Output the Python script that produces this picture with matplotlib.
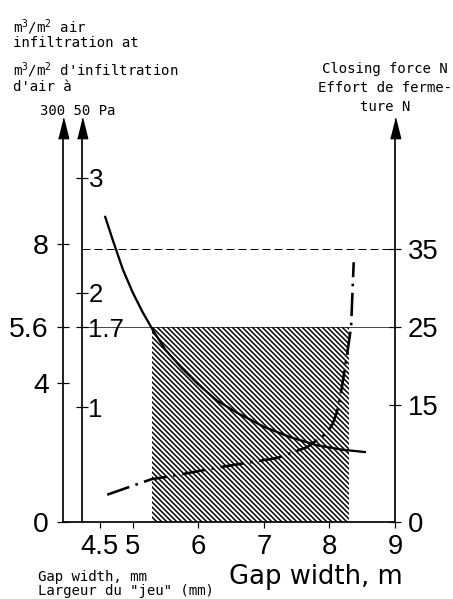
import numpy as np
import matplotlib
matplotlib.use("Agg")
import matplotlib.pyplot as plt
from matplotlib.patches import Rectangle

# gap width axis
gap_ticks = [4.5, 5, 6, 7, 8, 9]
gap_labels = ['4.5', '5', '6', '7', '8', '9']

# left axes: air infiltration at 300 Pa and 50 Pa, right axis: closing force
air300_ticks = [0, 4, 5.6, 8]
air300_labels = ['0', '4', '5.6', '8']
air50_ticks = [1, 1.7, 2, 3]
air50_labels = ['1', '1.7', '2', '3']
force_ticks = [0, 15, 25, 35]
force_labels = ['0', '15', '25', '35']

# air infiltration curve (50 Pa scale)
air_gap = [4.58, 4.70, 4.85, 5.00, 5.15, 5.31, 5.50, 5.75, 6.00, 6.28,
           6.60, 7.00, 7.40, 7.80, 8.20, 8.54]
air_50 = [2.66, 2.45, 2.20, 2.00, 1.83, 1.67, 1.50, 1.34, 1.20, 1.06,
          0.95, 0.83, 0.74, 0.67, 0.63, 0.61]

# closing force curve
force_gap = [4.61, 5.29, 5.60, 6.38, 7.20, 7.66, 7.96, 8.05, 8.11, 8.16,
             8.20, 8.24, 8.28, 8.33, 8.37]
force_N = [3.5, 5.5, 5.9, 7.1, 8.2, 9.6, 11.4, 12.6, 14.0, 15.8,
           17.8, 20.0, 22.1, 25.0, 33.3]

gap_range = [5.3, 8.3]
force_limit = 25
force_max = 35

DPI = 120
W, H = 453, 599
px = 72.0 / DPI  # one pixel in points

tickfont = ['Liberation Sans', 'DejaVu Sans']
mono = 'DejaVu Sans Mono'
plt.rcParams['mathtext.fontset'] = 'custom'
plt.rcParams['mathtext.rm'] = mono
plt.rcParams['mathtext.it'] = mono
plt.rcParams['hatch.linewidth'] = 1.5 * px

fig = plt.figure(figsize=(W / DPI, H / DPI), dpi=DPI)
x0, x1, yb, yt = 63, 395, 522, 138
ax = fig.add_axes([x0 / W, 1 - yb / H, (x1 - x0) / W, (yb - yt) / H])

# scales (pixels per unit)
sx = 65.6
xmin = 4.5 - (100 - x0) / sx
xmax = 4.5 + (x1 - 100) / sx
axis2_x = 4.5 - (100 - 82) / sx
f_scale = 7.8
a300_scale = 34.8
a50_scale = 114.7
hpx = yb - yt

ax.set_xlim(xmin, xmax)
ax.set_ylim(0, hpx / f_scale)

ax1 = ax.twinx()
ax1.set_ylim(0, hpx / a300_scale)
ax2 = ax.twinx()
ax2.set_ylim(0, hpx / a50_scale)

spw = 1.7 * px
for a in (ax, ax1, ax2):
    for s in a.spines.values():
        s.set_visible(False)
        s.set_linewidth(spw)

# bottom / right (force) spines on main axes
ax.spines['bottom'].set_visible(True)
ax.spines['right'].set_visible(True)
ax.set_xticks(gap_ticks)
ax.set_xticklabels(gap_labels, family=tickfont, fontsize=16.5)
ax.tick_params(axis='x', direction='out', length=6 * px, width=1.2 * px, pad=6 * px)
ax.yaxis.tick_right()
ax.set_yticks(force_ticks)
ax.set_yticklabels(force_labels, family=tickfont, fontsize=16.5)
ax.tick_params(axis='y', direction='inout', length=12 * px, width=1.2 * px, pad=7 * px)

# 300 Pa axis on the left
ax1.spines['left'].set_visible(True)
ax1.yaxis.set_ticks_position('left')
ax1.set_yticks(air300_ticks)
ax1.set_yticklabels(air300_labels, family=tickfont, fontsize=17)
ax1.tick_params(axis='y', direction='inout', length=12 * px, width=1.2 * px,
                pad=8 * px, labelleft=True, labelright=False)

# 50 Pa axis
ax2.spines['right'].set_visible(True)
ax2.spines['right'].set_position(('data', axis2_x))
ax2.set_yticks(air50_ticks)
ax2.set_yticklabels(air50_labels, family=tickfont, fontsize=15.5)
ax2.tick_params(axis='y', direction='inout', length=12 * px, width=1.2 * px, pad=0.5 * px)

# arrow heads on the three vertical axes
head = [(-0.25, 0), (0.25, 0), (0, 1)]
ax.plot([xmin, axis2_x, xmax], [1, 1, 1], transform=ax.get_xaxis_transform(),
        ls='none', marker=head, ms=40 * px, color='black', clip_on=False)

# hatched zone (dense backslash hatch)
ax.add_patch(Rectangle((gap_range[0], 0), gap_range[1] - gap_range[0], force_limit,
                       facecolor='none', edgecolor='black', lw=0, hatch=chr(92) * 8))
ax.plot([axis2_x, xmax], [force_limit, force_limit], color='black', lw=0.7 * px)
ax.plot([axis2_x, xmax], [force_max, force_max], color='black', lw=1.0 * px,
        dashes=(8, 4))

ax2.plot(air_gap, air_50, color='black', lw=2.3 * px)
ax.plot(force_gap, force_N, color='black', lw=2.6 * px, dashes=(9, 2.5, 1, 2.5))

# texts
tkw = dict(family=mono, fontsize=8.4, color='black')
fig.text(13 / W, 1 - 27 / H, r'm$^3$/m$^2$ air', va='center', **tkw)
fig.text(13 / W, 1 - 43 / H, 'infiltration at', va='center', **tkw)
fig.text(13 / W, 1 - 70 / H, r"m$^3$/m$^2$ d'infiltration", va='center', **tkw)
fig.text(13 / W, 1 - 87 / H, "d'air à", va='center', **tkw)
fig.text(40 / W, 1 - 111 / H, '300 50 Pa', va='center', **tkw)
fig.text(385 / W, 1 - 88 / H, 'Closing force N\nEffort de ferme-\nture N',
         ha='center', va='center', multialignment='center', linespacing=1.45, **tkw)
fig.text(38 / W, 1 - 577 / H, 'Gap width, mm', va='center', **tkw)
fig.text(38 / W, 1 - 591 / H, 'Largeur du "jeu" (mm)', va='center', **tkw)
fig.text(316 / W, 1 - 577 / H, 'Gap width, m', ha='center', va='center',
         family='DejaVu Sans', fontsize=15.5)

fig.savefig('out.png', dpi=DPI)
